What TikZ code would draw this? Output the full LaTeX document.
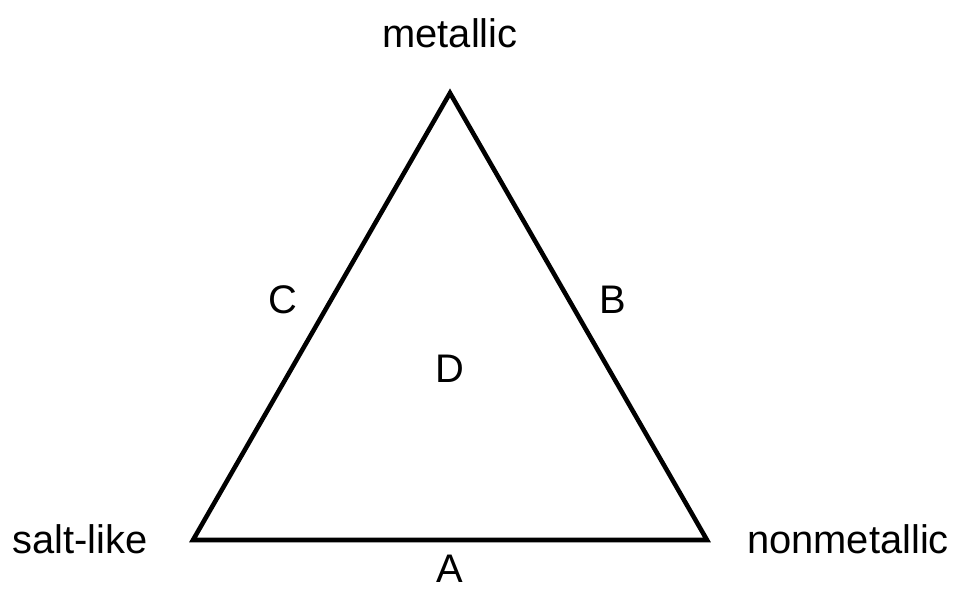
\documentclass[tikz,border=0pt]{standalone}
\usepackage{fontspec}
\setmainfont{Liberation Sans}
\usetikzlibrary{positioning}
\definecolor{Ink}{HTML}{000000}

\begin{document}
\begin{tikzpicture}[x=0.02cm, y=-0.02cm,
    edge/.style={draw=Ink,line width=2.6pt,line join=miter},
    corner/.style={font=\fontsize{22.7}{27}\selectfont,text=Ink,anchor=base,inner sep=0pt}]
    \useasboundingbox (0,0) rectangle (954,589);
    \coordinate (top) at (450,93);
    \coordinate (left) at (193,540);
    \coordinate (right) at (707,540);
    \draw[edge] (top) -- (left) -- (right) -- cycle;
    \node[corner] (metallic) at (450,47) {metallic};
    \node[corner] (saltlike) at (80,553) {salt-like};
    \node[corner] (nonmetallic) at (848,553) {nonmetallic};
    \node[corner] (sideA) at (450,582) {A};
    \node[corner] (sideB) at (613,313) {B};
    \node[corner] (sideC) at (283,313) {C};
    \node[corner] (inside) at (450,382) {D};
  \end{tikzpicture}
\end{document}
